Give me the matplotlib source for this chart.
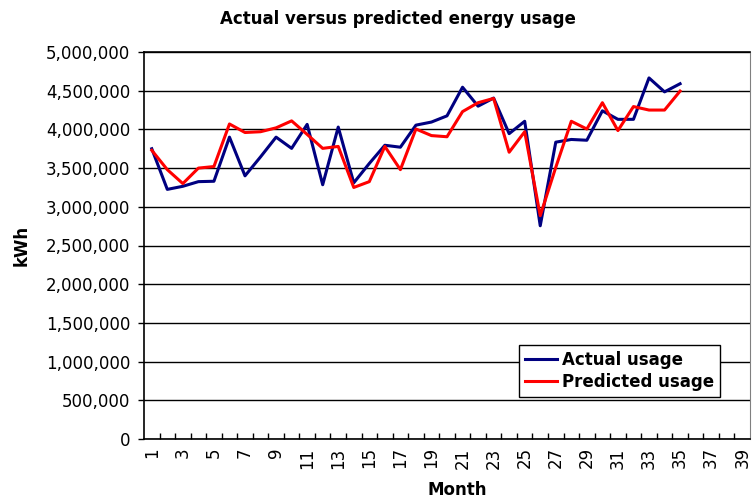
import matplotlib
matplotlib.use('Agg')
import matplotlib.pyplot as plt
from matplotlib.ticker import FuncFormatter

months = list(range(1, 36))
actual = [3750000, 3225000, 3265000, 3325000, 3330000, 3900000, 3400000, 3645000,
          3900000, 3755000, 4065000, 3285000, 4030000, 3310000, 3560000, 3795000,
          3770000, 4055000, 4095000, 4175000, 4545000, 4300000, 4405000, 3945000,
          4105000, 2755000, 3835000, 3870000, 3860000, 4240000, 4130000, 4130000,
          4665000, 4485000, 4590000]
predicted = [3730000, 3480000, 3300000, 3500000, 3520000, 4070000, 3960000, 3970000,
             4020000, 4110000, 3935000, 3755000, 3780000, 3250000, 3325000, 3780000,
             3480000, 4005000, 3920000, 3905000, 4230000, 4345000, 4400000, 3705000,
             3970000, 2885000, 3510000, 4105000, 4005000, 4345000, 3985000, 4295000,
             4250000, 4250000, 4495000]
all_months = list(range(1, 40))

fig = plt.figure(figsize=(7.52, 5.03), dpi=100)
ax = fig.add_axes([144/752, 64/503, 606/752, 387/503])

ax.plot(months, actual, color='#000080', lw=2.2, label='Actual usage')
ax.plot(months, predicted, color='#ff0000', lw=2.2, label='Predicted usage')

ax.set_xlim(0.5, 39.5)
ax.set_ylim(0, 5000000)
ax.set_yticks(range(0, 5000001, 500000))
ax.yaxis.set_major_formatter(FuncFormatter(lambda v, p: f'{int(v):,}'))
ax.yaxis.grid(True, color='#000000', lw=1.0)
ax.set_axisbelow(True)

# category boundaries get the tick marks, every other month gets a label
ax.set_xticks([m + 0.5 for m in all_months[:-1]])
ax.set_xticklabels([])
ax.set_xticks(all_months[::2], minor=True)
ax.set_xticklabels([str(m) for m in all_months[::2]], minor=True, rotation=90, fontsize=12)
ax.tick_params(axis='x', which='major', direction='in', length=4, width=1)
ax.tick_params(axis='x', which='minor', length=0, pad=6)
ax.tick_params(axis='y', direction='out', length=4, width=1, labelsize=12, pad=6)

for s in ['left', 'bottom', 'top']:
    ax.spines[s].set_color('black')
    ax.spines[s].set_linewidth(1.2)
ax.spines['right'].set_color('#808080')

fig.text(0.5 + 22/752, 1 - 19/503, 'Actual versus predicted energy usage',
         ha='center', va='center', fontsize=12, fontweight='bold')
fig.text(22/752, 1 - 245/503, 'kWh', rotation=90, ha='center', va='center',
         fontsize=12, fontweight='bold')
fig.text(457/752, 1 - 490/503, 'Month', ha='center', va='center',
         fontsize=12, fontweight='bold')

leg = ax.legend(loc='lower left', bbox_to_anchor=(0.619, 0.1085), frameon=True,
                fancybox=False, framealpha=1, edgecolor='black',
                prop={'weight': 'bold', 'size': 12}, handlelength=1.9,
                handletextpad=0.3, borderpad=0.35, labelspacing=0.25, borderaxespad=0)
leg.get_frame().set_linewidth(1.0)

fig.savefig('out.png', dpi=100)
